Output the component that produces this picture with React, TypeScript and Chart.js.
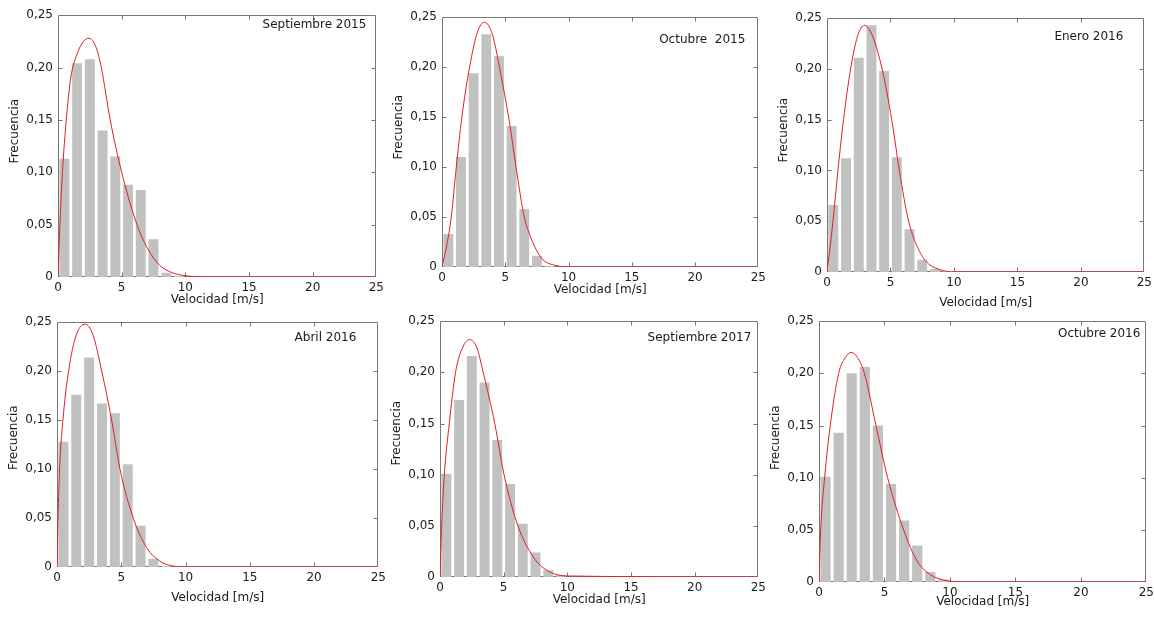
import React, { useEffect, useRef } from 'react';
import { Chart, registerables } from 'chart.js';

Chart.register(...registerables);

// ---------- data ----------
const binCenters = [0.5, 1.5, 2.5, 3.5, 4.5, 5.5, 6.5, 7.5, 8.5, 9.5];

const panelTitles = ['Septiembre 2015', 'Octubre  2015', 'Enero 2016', 'Abril 2016', 'Septiembre 2017', 'Octubre 2016'];

const sep2015Freq = [0.113, 0.204, 0.208, 0.14, 0.115, 0.088, 0.083, 0.036, 0.004, 0.001];
const oct2015Freq = [0.033, 0.11, 0.194, 0.233, 0.211, 0.141, 0.058, 0.011, 0.001, 0];
const ene2016Freq = [0.066, 0.112, 0.211, 0.243, 0.198, 0.113, 0.042, 0.012, 0.003, 0.001];
const abr2016Freq = [0.128, 0.176, 0.214, 0.167, 0.157, 0.105, 0.042, 0.0085, 0.001, 0];
const sep2017Freq = [0.101, 0.173, 0.216, 0.19, 0.134, 0.091, 0.052, 0.024, 0.0065, 0.002];
const oct2016Freq = [0.101, 0.143, 0.2, 0.206, 0.15, 0.094, 0.059, 0.035, 0.0096, 0.0025];

const sep2015CurveX = [0, 0.15, 0.35, 0.65, 1.0, 1.5, 2.0, 2.45, 3.0, 3.4, 4.1, 5.0, 6.2, 7.0, 8.0, 9.0, 10.0, 12.0, 25];
const sep2015CurveY = [0, 0.05, 0.1, 0.15, 0.19, 0.213, 0.225, 0.228, 0.219, 0.2, 0.15, 0.1, 0.05, 0.028, 0.011, 0.004, 0.0012, 0, 0];

const oct2015CurveX = [0, 0.35, 0.73, 1.13, 1.57, 2.18, 2.8, 3.36, 4.0, 4.54, 5.33, 5.85, 6.5, 7.0, 7.5, 8.0, 9.0, 10, 25];
const oct2015CurveY = [0, 0.02, 0.05, 0.1, 0.15, 0.2, 0.235, 0.245, 0.232, 0.2, 0.145, 0.1, 0.05, 0.03, 0.016, 0.007, 0.0015, 0, 0];

const ene2016CurveX = [0, 0.2, 0.47, 0.86, 1.3, 1.86, 2.4, 2.95, 3.6, 4.34, 5.1, 5.7, 6.43, 7.3, 8.0, 9.0, 10, 25];
const ene2016CurveY = [0, 0.02, 0.05, 0.1, 0.15, 0.2, 0.232, 0.243, 0.232, 0.2, 0.15, 0.1, 0.05, 0.02, 0.008, 0.002, 0, 0];

const abr2016CurveX = [0, 0.08, 0.2, 0.46, 0.9, 1.5, 2.19, 2.8, 3.48, 4.25, 4.9, 5.93, 6.96, 8.0, 9.0, 10, 25];
const abr2016CurveY = [0, 0.05, 0.1, 0.15, 0.2, 0.237, 0.248, 0.237, 0.2, 0.15, 0.1, 0.05, 0.02, 0.006, 0.001, 0, 0];

const sep2017CurveX = [0, 0.13, 0.34, 0.73, 1.22, 1.8, 2.34, 2.9, 3.39, 4.3, 5.03, 6.12, 7.3, 8.0, 9.0, 10, 25];
const sep2017CurveY = [0, 0.05, 0.1, 0.15, 0.2, 0.225, 0.232, 0.224, 0.2, 0.15, 0.1, 0.05, 0.02, 0.01, 0.003, 0.001, 0];

const oct2016CurveX = [0, 0.13, 0.43, 0.86, 1.5, 2.0, 2.46, 3.0, 3.47, 4.35, 5.24, 6.46, 7.5, 8.5, 9.5, 11, 25];
const oct2016CurveY = [0, 0.05, 0.1, 0.15, 0.2, 0.215, 0.22, 0.214, 0.2, 0.15, 0.1, 0.05, 0.02, 0.007, 0.002, 0, 0];

const panelFreqs = [sep2015Freq, oct2015Freq, ene2016Freq, abr2016Freq, sep2017Freq, oct2016Freq];
const panelCurveX = [sep2015CurveX, oct2015CurveX, ene2016CurveX, abr2016CurveX, sep2017CurveX, oct2016CurveX];
const panelCurveY = [sep2015CurveY, oct2015CurveY, ene2016CurveY, abr2016CurveY, sep2017CurveY, oct2016CurveY];

const xAxisMax = 25;
const yAxisMax = 0.25;
const xStep = 5;
const yStep = 0.05;
const xTitle = 'Velocidad [m/s]';
const yTitle = 'Frecuencia';

// ---------- layout (pixel boxes of each plot area) ----------
const layouts = [
  { left: 58, top: 15, right: 378, bottom: 277, tInset: 10, tDy: 10, xt: 23, yUp: 15 },
  { left: 442, top: 17, right: 760, bottom: 267, tInset: 13, tDy: 23, xt: 23, yUp: 15 },
  { left: 827, top: 18, right: 1146, bottom: 272, tInset: 21, tDy: 19, xt: 31, yUp: 15 },
  { left: 57, top: 322, right: 380, bottom: 567, tInset: 22, tDy: 16, xt: 31, yUp: 7 },
  { left: 440, top: 321, right: 760, bottom: 577, tInset: 7, tDy: 17, xt: 23, yUp: 16 },
  { left: 819, top: 321, right: 1148, bottom: 582, tInset: 6, tDy: 13, xt: 20, yUp: 14 },
];

const FONT = '"DejaVu Sans", Arial, sans-serif';
const TEXT = '#1a1a1a';
const Y_AXIS_W = 58;
const PAD_TOP = 12;
const PAD_RIGHT = 10;

const framePlugin = {
  id: 'frameTicks',
  beforeDatasetsDraw(chart: any) {
    const { ctx, chartArea } = chart;
    const xs = chart.scales.x;
    const ys = chart.scales.y;
    ctx.save();
    ctx.strokeStyle = '#777';
    ctx.lineWidth = 1;
    const l = Math.round(chartArea.left) + 0.5;
    const r = Math.round(chartArea.right) - 0.5;
    const t = Math.round(chartArea.top) + 0.5;
    const b = Math.round(chartArea.bottom) - 0.5;
    ctx.beginPath();
    ctx.rect(l, t, r - l, b - t);
    const len = 4;
    xs.ticks.forEach((tk: any) => {
      if (tk.value <= xs.min || tk.value >= xs.max) return;
      const px = Math.round(xs.getPixelForValue(tk.value)) + 0.5;
      ctx.moveTo(px, b);
      ctx.lineTo(px, b - len);
      ctx.moveTo(px, t);
      ctx.lineTo(px, t + len);
    });
    ys.ticks.forEach((tk: any) => {
      if (tk.value <= ys.min || tk.value >= ys.max - 1e-9) return;
      const py = Math.round(ys.getPixelForValue(tk.value)) + 0.5;
      ctx.moveTo(l, py);
      ctx.lineTo(l + len, py);
      ctx.moveTo(r, py);
      ctx.lineTo(r - len, py);
    });
    ctx.stroke();
    ctx.restore();
  },
};

const textPlugin = {
  id: 'panelText',
  afterDraw(chart: any, _args: any, opts: any) {
    const { ctx, chartArea } = chart;
    ctx.save();
    ctx.font = `12px ${FONT}`;
    ctx.fillStyle = TEXT;
    ctx.textAlign = 'right';
    ctx.textBaseline = 'middle';
    ctx.fillText(opts.text, chartArea.right - opts.inset, chartArea.top + opts.dy);
    // rotated y-axis title
    ctx.translate(chartArea.left - 43, (chartArea.top + chartArea.bottom) / 2 - opts.yUp);
    ctx.rotate(-Math.PI / 2);
    ctx.textAlign = 'center';
    ctx.fillText(opts.yTitle, 0, 0);
    ctx.restore();
  },
};

function Panel({ idx }: { idx: number }) {
  const ref = useRef<HTMLCanvasElement | null>(null);
  const L = layouts[idx];
  const xAxisH = L.xt + 11;
  const width = L.right - L.left + Y_AXIS_W + PAD_RIGHT;
  const height = L.bottom - L.top + PAD_TOP + xAxisH;

  useEffect(() => {
    if (!ref.current) return;
    const bars = binCenters.map((x, i) => ({ x, y: panelFreqs[idx][i] }));
    const curve = panelCurveX[idx].map((x, i) => ({ x, y: panelCurveY[idx][i] }));
    const chart = new Chart(ref.current, {
      type: 'bar',
      data: {
        datasets: [
          {
            type: 'line',
            data: curve,
            borderColor: 'rgb(225,30,40)',
            borderWidth: 1,
            pointRadius: 0,
            cubicInterpolationMode: 'monotone',
            fill: false,
            order: 0,
          } as any,
          {
            type: 'bar',
            data: bars,
            backgroundColor: '#c0c1c0',
            borderWidth: 0,
            barPercentage: 0.78,
            categoryPercentage: 1,
            order: 1,
          } as any,
        ],
      },
      options: {
        responsive: false,
        animation: false,
        layout: { padding: { left: 0, top: PAD_TOP, right: PAD_RIGHT, bottom: 0 } },
        plugins: {
          legend: { display: false },
          tooltip: { enabled: false },
          panelText: { text: panelTitles[idx], inset: L.tInset, dy: L.tDy, yUp: L.yUp, yTitle },
        } as any,
        scales: {
          x: {
            type: 'linear',
            min: 0,
            max: xAxisMax,
            offset: false,
            grid: { display: false, drawTicks: false },
            border: { display: false },
            ticks: {
              stepSize: xStep,
              autoSkip: false,
              maxRotation: 0,
              padding: 4,
              color: TEXT,
              font: { family: FONT, size: 12 },
            },
            title: {
              display: true,
              text: xTitle,
              color: TEXT,
              font: { family: FONT, size: 12 },
              padding: { top: 0, bottom: 4 },
            },
            afterFit: (s: any) => {
              s.height = xAxisH;
            },
          },
          y: {
            type: 'linear',
            min: 0,
            max: yAxisMax,
            grid: { display: false, drawTicks: false },
            border: { display: false },
            ticks: {
              stepSize: yStep,
              autoSkip: false,
              padding: 5,
              color: TEXT,
              font: { family: FONT, size: 12 },
              callback: (v: any) => (Number(v) === 0 ? '0' : Number(v).toFixed(2).replace('.', ',')),
            },
            title: { display: false },
            afterFit: (s: any) => {
              s.width = Y_AXIS_W;
            },
          },
        },
      } as any,
      plugins: [framePlugin, textPlugin],
    });
    return () => chart.destroy();
  }, [idx]);

  return (
    <canvas
      ref={ref}
      width={width}
      height={height}
      style={{
        position: 'absolute',
        left: L.left - Y_AXIS_W,
        top: L.top - PAD_TOP,
        width,
        height,
      }}
    />
  );
}

export default function App() {
  return (
    <div
      style={{
        position: 'absolute',
        left: 0,
        top: 0,
        width: 1154,
        height: 620,
        overflow: 'hidden',
        background: '#fff',
      }}
    >
      {layouts.map((_, i) => (
        <Panel key={i} idx={i} />
      ))}
    </div>
  );
}
